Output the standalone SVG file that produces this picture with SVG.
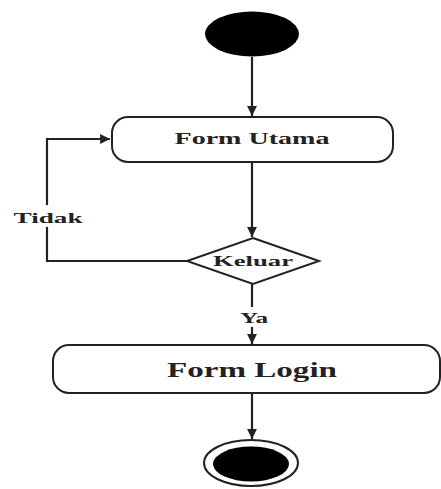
<svg xmlns="http://www.w3.org/2000/svg" width="441" height="489" viewBox="0 0 441 489">
<defs>
<style>
.box{fill:#fff;stroke:#222;stroke-width:2}
.ln{fill:none;stroke:#222;stroke-width:2.2}
.t{font-family:"Liberation Serif","Times New Roman",serif;font-weight:bold;fill:#222;text-anchor:middle}
.lbl{fill:#fff;stroke:none}
</style>
<marker id="ah" viewBox="0 0 10 10" refX="10" refY="5" markerWidth="4.5" markerHeight="4.5" orient="auto" markerUnits="strokeWidth">
<path d="M0,0 L10,5 L0,10 Z" fill="#222"/>
</marker>
</defs>
<rect width="441" height="489" fill="#fff"/>
<g id="connectors">
<path class="ln" d="M252,57 V116" marker-end="url(#ah)"/>
<path class="ln" d="M252,162 V237" marker-end="url(#ah)"/>
<path class="ln" d="M187,261 H47 V139 H110" marker-end="url(#ah)"/>
<path class="ln" d="M252,284 V344" marker-end="url(#ah)"/>
<path class="ln" d="M252,393 V439" marker-end="url(#ah)"/>
<g id="label-tidak">
<rect class="lbl" x="12" y="205" width="72" height="22"/>
<text class="t" x="48" y="223" font-size="15" textLength="69" lengthAdjust="spacingAndGlyphs">Tidak</text>
</g>
<g id="label-ya">
<rect class="lbl" x="238" y="307" width="32" height="20"/>
<text class="t" x="254" y="323" font-size="14" textLength="28" lengthAdjust="spacingAndGlyphs">Ya</text>
</g>
</g>
<g id="start">
<ellipse cx="252" cy="34" rx="47" ry="22.5" fill="#000"/>
</g>
<g id="form-utama">
<rect class="box" x="112" y="117" width="281" height="45" rx="16"/>
<text class="t" x="252" y="144" font-size="17" textLength="155" lengthAdjust="spacingAndGlyphs">Form Utama</text>
</g>
<g id="keluar">
<polygon class="box" points="253,238 319,261 253,284 187,261"/>
<text class="t" x="253" y="266" font-size="15" textLength="80" lengthAdjust="spacingAndGlyphs">Keluar</text>
</g>
<g id="form-login">
<rect class="box" x="53" y="345" width="387" height="48" rx="16"/>
<text class="t" x="252" y="377" font-size="20" textLength="170" lengthAdjust="spacingAndGlyphs">Form Login</text>
</g>
<g id="end">
<ellipse cx="251" cy="463" rx="47" ry="23" fill="#fff" stroke="#222" stroke-width="2"/>
<ellipse cx="251" cy="464" rx="38" ry="17.5" fill="#000"/>
</g>
</svg>
